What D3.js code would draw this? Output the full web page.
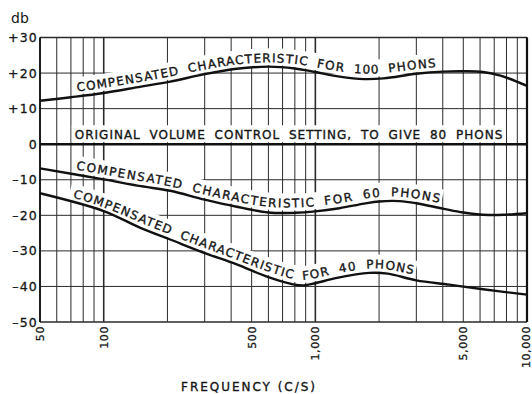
<!DOCTYPE html>
<html>
<head>
<meta charset="utf-8">
<script src="https://cdn.jsdelivr.net/npm/d3@7/dist/d3.min.js"></script>
<style>
  html, body { margin: 0; padding: 0; background: #fff; }
  svg { display: block; }
  text { font-family: "DejaVu Sans", "Liberation Sans", sans-serif; fill: #151515; }
  .cap { stroke: #151515; stroke-width: 0.3px; }
  .lettering { stroke: #151515; stroke-width: 0.35px; }
</style>
</head>
<body>
<svg id="chart" width="532" height="394"></svg>
<script>
// Loudness-compensated response curves (dB relative to the 80-phon setting)
const freq100 = [50, 70, 100, 150, 206, 300, 425, 600, 800, 1000, 1300, 1700, 2100, 3000, 4000, 5000, 6200, 7500, 10000];
const db100   = [12.2, 13.2, 14.4, 16.2, 17.6, 19.7, 21.2, 21.8, 21.3, 20.3, 19.0, 18.3, 18.5, 19.8, 20.4, 20.5, 20.3, 19.3, 16.4];

const freq80 = [50, 10000];
const db80   = [0, 0];

const freq60 = [50, 100, 150, 206, 300, 425, 600, 800, 1000, 1300, 1700, 2000, 2500, 3000, 4000, 5000, 6600, 8000, 10000];
const db60   = [-6.8, -9.9, -11.8, -13.1, -15.6, -17.6, -19.2, -19.3, -18.9, -18.0, -16.7, -16.1, -16.0, -16.6, -18.1, -19.2, -19.9, -19.8, -19.4];

const freq40 = [50, 100, 150, 206, 300, 425, 600, 785, 880, 1000, 1265, 1800, 2200, 3000, 4300, 6200, 10000];
const db40   = [-13.8, -18.8, -23.6, -26.8, -30.6, -33.8, -37.4, -39.4, -39.7, -39.1, -37.6, -36.2, -36.4, -38.3, -39.5, -40.8, -42.3];

const yTicks      = [30, 20, 10, 0, -10, -20, -30, -40, -50];
const yTickLabels = ["+30", "+20", "+10", "0", "\u201310", "\u201320", "\u201330", "\u201340", "\u201350"];
const xTicks      = [50, 100, 500, 1000, 5000, 10000];
const xTickLabels = ["50", "100", "500", "1,000", "5,000", "10,000"];

const curveNames  = ["c100", "c80", "c60", "c40"];
const labelTexts  = [
  "COMPENSATED CHARACTERISTIC FOR 100 PHONS",
  "ORIGINAL VOLUME CONTROL SETTING, TO GIVE 80 PHONS",
  "COMPENSATED CHARACTERISTIC FOR 60 PHONS",
  "COMPENSATED CHARACTERISTIC FOR 40 PHONS"
];
const labelFrom = [75, 73, 74, 71.5];       // Hz where each caption starts
const labelTo   = [3700, 7640, 3850, 2900]; // Hz where each caption ends

const svg = d3.select("#chart");
const x = d3.scaleLog().domain([50, 10000]).range([40, 527]);
const y = d3.scaleLinear().domain([-50, 30]).range([322, 37.5]);

// ---- grid ----
const grid = svg.append("g");
const gridFreqs = x.ticks();
grid.selectAll("line.v").data(gridFreqs).join("line")
  .attr("x1", d => x(d)).attr("x2", d => x(d))
  .attr("y1", y(30)).attr("y2", y(-50))
  .attr("stroke", "#2a2a2a")
  .attr("stroke-width", d => (Math.abs(Math.log10(d) - Math.round(Math.log10(d))) < 1e-9) ? 1.6 : 1);
grid.selectAll("line.h").data(yTicks.filter(d => d !== 0)).join("line")
  .attr("x1", x(50)).attr("x2", x(10000))
  .attr("y1", d => y(d)).attr("y2", d => y(d))
  .attr("stroke", "#2a2a2a").attr("stroke-width", d => (d === 30 || d === -50) ? 1.5 : 1);

// ---- curves ----
const line = d3.line().x(d => x(d[0])).y(d => y(d[1])).curve(d3.curveCatmullRom.alpha(0.5));
// smoothed guide for the lettering, lifted a few pixels above each curve
const lift = 5;
const guide = d3.line().x(d => x(d[0])).y(d => y(d[1]) - lift).curve(d3.curveBasis);
const series = [
  d3.zip(freq100, db100),
  d3.zip(freq80, db80),
  d3.zip(freq60, db60),
  d3.zip(freq40, db40)
];

const defs = svg.append("defs");
series.forEach((pts, i) => {
  defs.append("path").attr("id", curveNames[i]).attr("d", guide(pts));
});

// length along a path where it reaches a given x position
function lengthAtX(node, px) {
  let lo = 0, hi = node.getTotalLength();
  for (let k = 0; k < 40; k++) {
    const mid = (lo + hi) / 2;
    if (node.getPointAtLength(mid).x < px) lo = mid; else hi = mid;
  }
  return (lo + hi) / 2;
}

const bands = svg.append("g");
const curves = svg.append("g");
const captions = svg.append("g");

series.forEach((pts, i) => {
  const id = curveNames[i];
  const node = defs.select("#" + id).node();
  const total = node.getTotalLength();
  const s0 = lengthAtX(node, x(labelFrom[i]));
  const s1 = lengthAtX(node, x(labelTo[i]));
  const label = labelTexts[i];

  // white band behind the caption that clears the grid
  bands.append("path").attr("d", guide(pts))
    .attr("transform", `translate(0,${lift - 10.5})`)
    .attr("fill", "none").attr("stroke", "#fff").attr("stroke-width", 17)
    .attr("stroke-dasharray", `0 ${s0 - 3} ${s1 - s0 + 6} ${total + 50}`);

  curves.append("path").attr("d", line(pts))
    .attr("fill", "none").attr("stroke", "#111")
    .attr("stroke-width", i === 1 ? 2.6 : 2.4);

  // lay the whole caption out once to find the spacing, then set each word on its own
  const probe = captions.append("text").attr("class", "lettering").attr("font-size", 12)
    .style("word-spacing", "4px");
  probe.append("textPath").attr("href", "#" + id).attr("xlink:href", "#" + id)
    .attr("startOffset", s0).text(label);
  const measured = probe.node().getComputedTextLength();
  const ls = (s1 - s0 - measured) / (label.length - 1);
  probe.style("letter-spacing", ls + "px");

  const words = [];
  let idx = 0;
  label.split(" ").forEach(w => {
    const off = idx === 0 ? 0 : probe.node().getSubStringLength(0, idx);
    words.push({ w, off });
    idx += w.length + 1;
  });
  probe.remove();

  words.forEach(({ w, off }) => {
    captions.append("text").attr("class", "lettering").attr("font-size", 12)
      .style("letter-spacing", ls + "px")
      .append("textPath").attr("href", "#" + id).attr("xlink:href", "#" + id)
      .attr("startOffset", s0 + off).text(w);
  });
});

// ---- frame ----
svg.append("line").attr("x1", x(50)).attr("x2", x(50)).attr("y1", y(30)).attr("y2", y(-50))
  .attr("stroke", "#111").attr("stroke-width", 1.8);
svg.append("line").attr("x1", x(10000)).attr("x2", x(10000)).attr("y1", y(30)).attr("y2", y(-50))
  .attr("stroke", "#111").attr("stroke-width", 2.2);

// ---- axis labels ----
function fitText(sel, width) {
  const w = sel.node().getComputedTextLength();
  const n = sel.text().length;
  sel.style("letter-spacing", ((width - w) / (n - 1)) + "px");
}

svg.append("g").selectAll("text").data(yTicks).join("text")
  .attr("class", "cap")
  .attr("x", 38).attr("y", d => y(d)).attr("dy", "0.36em")
  .attr("text-anchor", "end").attr("font-size", 12.5)
  .style("letter-spacing", "1.2px")
  .text((d, i) => yTickLabels[i]);

svg.append("g").selectAll("text").data(xTicks).join("text")
  .attr("class", "cap")
  .attr("transform", d => `translate(${Math.min(x(d), 526)},326) rotate(-90)`)
  .attr("dy", "0.36em").attr("text-anchor", "end").attr("font-size", 11)
  .style("letter-spacing", "0.6px")
  .text((d, i) => xTickLabels[i]);

svg.append("text").attr("x", 11).attr("y", 23).attr("font-size", 14).text("db");

const fq = svg.append("text").attr("class", "lettering").attr("x", 181).attr("y", 391).attr("font-size", 12)
  .text("FREQUENCY (C/S)");
fitText(fq, 134);
</script>
</body>
</html>
